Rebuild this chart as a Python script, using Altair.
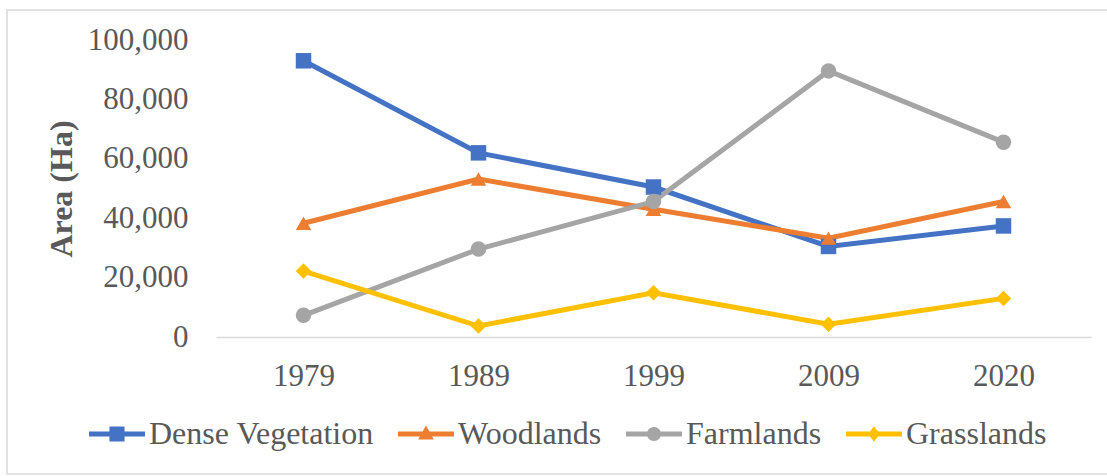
import altair as alt
import pandas as pd

years = ["1979", "1989", "1999", "2009", "2020"]
series = ["Dense Vegetation", "Woodlands", "Farmlands", "Grasslands"]
dense_vegetation = [93000, 62000, 50500, 30500, 37400]
woodlands = [38300, 53200, 43000, 33300, 45600]
farmlands = [7300, 29600, 45600, 89600, 65600]
grasslands = [22200, 3700, 14900, 4300, 13000]
colors = ["#4472C4", "#ED7D31", "#A5A5A5", "#FFC000"]
shapes = ["square", "triangle-up", "circle", "diamond"]
y_ticks = [0, 20000, 40000, 60000, 80000, 100000]

rows = []
for name, vals in zip(series, [dense_vegetation, woodlands, farmlands, grasslands]):
    for yr, v in zip(years, vals):
        rows.append({"Year": yr, "Area": v, "Series": name})
df = pd.DataFrame(rows)

FONT = "Liberation Serif"
TXT = "#595959"

# legend glyphs: a bar (line) plus the series marker, in the -1..1 custom-symbol box
LINE = "M-1,-0.09H1V0.09H-1Z"
legend_shapes = [
    LINE + "M-0.27,-0.27H0.27V0.27H-0.27Z",
    LINE + "M0,-0.3L0.28,0.2H-0.28Z",
    LINE + "M-0.25,0A0.25,0.25,0,1,1,0.25,0A0.25,0.25,0,1,1,-0.25,0Z",
    LINE + "M0,-0.28L0.21,0L0,0.28L-0.21,0Z",
]

x_enc = alt.X(
    "Year:O", sort=years, title=None,
    axis=alt.Axis(labelAngle=0, ticks=False, domainColor="#D9D9D9", domainWidth=1.5,
                  labelFont=FONT, labelFontSize=31, labelColor=TXT, labelPadding=24),
)
y_enc = alt.Y(
    "Area:Q", scale=alt.Scale(domain=[0, 100000], nice=False),
    title="Area (Ha)",
    axis=alt.Axis(values=y_ticks, format=",.0f", grid=False, domain=False, ticks=False,
                  labelFont=FONT, labelFontSize=31, labelColor=TXT, labelPadding=28,
                  titleFont=FONT, titleFontSize=32, titleFontWeight="bold", titleColor=TXT,
                  titleX=-155, titleY=148.5, titleAngle=270, titleBaseline="middle",
                  titleAlign="center"),
)


def cscale():
    return alt.Scale(domain=series, range=colors)


lines = alt.Chart(df).mark_line(strokeWidth=5).encode(
    x=x_enc, y=y_enc, color=alt.Color("Series:N", scale=cscale(), legend=None)
)

points = alt.Chart(df).mark_point(filled=True, size=240, opacity=1).encode(
    x=x_enc, y=y_enc,
    color=alt.Color("Series:N", scale=cscale(), legend=None),
    shape=alt.Shape("Series:N", scale=alt.Scale(domain=series, range=shapes), legend=None),
)

legend = alt.Legend(
    title=None, orient="none", direction="horizontal", legendX=-128, legendY=365,
    labelFont=FONT, labelFontSize=32, labelColor=TXT, labelOffset=3, labelLimit=500,
    columnPadding=21, symbolSize=3136, padding=0, symbolOpacity=1,
)
legend_layer = alt.Chart(df).transform_filter("false").mark_point(filled=True, opacity=1).encode(
    x=x_enc, y=y_enc,
    color=alt.Color("Series:N", scale=cscale(), legend=legend),
    shape=alt.Shape("Series:N", scale=alt.Scale(domain=series, range=legend_shapes), legend=legend),
)

frame = alt.Chart(pd.DataFrame({"f": [0]})).mark_rect(
    fillOpacity=0, stroke="#D9D9D9", strokeWidth=1.5
).encode(x=alt.value(-209), x2=alt.value(900), y=alt.value(-30), y2=alt.value(434))

chart = alt.layer(frame, lines, points, legend_layer).resolve_scale(
    shape="independent", color="independent"
).properties(
    width=875, height=297,
    autosize=alt.AutoSizeParams(type="none"),
    padding={"left": 216, "top": 40, "right": 16, "bottom": 139},
    background="white",
).configure_view(stroke=None)

chart.save("out.html", embed_options={"renderer": "svg", "actions": False})
